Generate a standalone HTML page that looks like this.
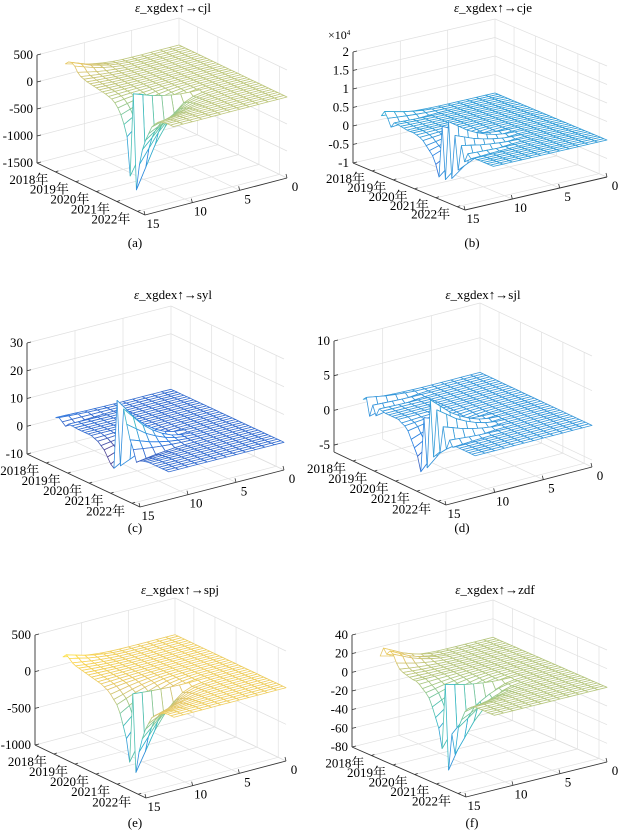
<!DOCTYPE html>
<html><head><meta charset="utf-8">
<style>
html,body{margin:0;padding:0;background:#fff;}
svg{display:block;font-family:"Liberation Serif","Noto Serif CJK SC","Noto Sans CJK SC",serif;}
</style></head>
<body>
<svg id="fig" width="621" height="833" viewBox="0 0 621 833" xmlns="http://www.w3.org/2000/svg"></svg>
<script>
// ---- data ----
const yearLabels = ["2018年","2019年","2020年","2021年","2022年"];
const yearTickPos = [0.17,0.36,0.55,0.74,0.93];
const lagTicks = [0,5,10,15];
const lagIndex = [0,1,2,3,4,5,6,7,8,9,10,11,12];
const lagWeights = [0,0,0,0,0,0.01,0.03,0.08,0.18,0.32,0.5,0.75,1];
const profileA = [200,260,280,240,150,100,80,60,50,40,30,20,10,0,-20,-40,-80,-150,-250,-400,-600,-1300,250,-1500,-1000,-700,-500,-350,-200,-120,-60,-30,-10,0,0,0];
const profileB = [0.1,0.25,0.1,-0.1,0.05,0.05,0.03,0.02,0,0,0,-0.02,-0.05,-0.1,-0.2,-0.3,-0.4,-0.6,-0.9,0.5,-0.9,0.7,-0.8,0.4,-0.5,0.2,-0.2,0.05,-0.05,0,0,0,0,0,0,0];
const profileC = [0.5,1,0,-1,0.3,0.2,0.1,0,0,0,0,0,-0.5,-1,-2,-3,-5,-7,-8,17,-6,15,10,5,2,-2,-1,-0.5,-0.2,0,0,0,0,0,0,0];
const profileD = [0.5,1,-1.5,0.3,-1,0.2,0.1,0,0,0,0,0,-0.3,-0.5,-1,-2,-3,-4,-6,2,-5,5,-3,4,-2,2,-1,0.5,-0.3,0,0,0,0,0,0,0];
const profileE = [100,150,120,80,60,50,40,30,20,10,0,-10,-20,-40,-60,-100,-150,-200,-300,-450,-600,-900,50,-1000,-700,-500,-350,-250,-150,-100,-60,-30,-10,0,0,0];
const profileF = [10,20,15,20,18,10,5,3,2,1,0,0,-2,-5,-8,-12,-20,-30,-40,-60,10,-80,-40,-60,-30,-20,-10,-5,-2,0,0,0,0,0,0,0];
const ticksA = [500,0,-500,-1000,-1500];
const ticksB = [2,1.5,1,0.5,0,-0.5,-1];
const ticksC = [30,20,10,0,-10];
const ticksD = [10,5,0,-5];
const ticksE = [500,0,-500,-1000];
const ticksF = [40,20,0,-20,-40,-60,-80];

const panels = [
 {id:"a",title:"cjl",prof:profileA,ticks:ticksA,zmin:-1500,zmax:500,cmin:-1500,cmax:700,O:[37,163],T:[108,52],L:[142,-37],Zh:108,tx:173,ty:12,cap:[135,247]},
 {id:"b",title:"cje",prof:profileB,ticks:ticksB,zmin:-1,zmax:2,cmin:-1,cmax:2.6,O:[353,163],T:[112,47],L:[142,-33],Zh:111,tx:493,ty:12,cap:[472,247],exp:true},
 {id:"c",title:"syl",prof:profileC,ticks:ticksC,zmin:-10,zmax:30,cmin:-3,cmax:30,O:[27,454],T:[113,53],L:[144,-37],Zh:111,tx:173,ty:299,cap:[135,532]},
 {id:"d",title:"sjl",prof:profileD,ticks:ticksD,zmin:-6,zmax:10,cmin:-6,cmax:18,O:[334,452],T:[112,53],L:[146,-38],Zh:111,tx:483,ty:299,cap:[462,532]},
 {id:"e",title:"spj",prof:profileE,ticks:ticksE,zmin:-1000,zmax:500,cmin:-1000,cmax:230,O:[35,745],T:[111,53],L:[140,-37],Zh:110,tx:180,ty:594,cap:[135,827]},
 {id:"f",title:"zdf",prof:profileF,ticks:ticksF,zmin:-80,zmax:40,cmin:-80,cmax:40,O:[352,747],T:[114,50],L:[141,-35],Zh:112,tx:495,ty:594,cap:[472,827]}
];

const stops=[[53,42,135],[3,99,225],[20,133,212],[6,167,198],[56,185,158],[146,191,115],[217,186,86],[252,206,46],[249,251,14]];
function parula(v){v=Math.max(0,Math.min(1,v));const s=v*(stops.length-1);const i=Math.min(stops.length-2,Math.floor(s));const f=s-i;
 const c=stops[i].map((x,k)=>Math.round(x+(stops[i+1][k]-x)*f));
 const w=c.map(x=>Math.round(x+(255-x)*0.15));
 return `rgb(${w[0]},${w[1]},${w[2]})`;}

const NS="http://www.w3.org/2000/svg";
const svg=document.getElementById('fig');
function mk(tag,attrs,parent){const e=document.createElementNS(NS,tag);for(const k in attrs)e.setAttribute(k,attrs[k]);(parent||svg).appendChild(e);return e;}

panels.forEach(p=>{
 const g=mk('g',{});
 
 
 const P=(t,l,z)=>[p.O[0]+p.T[0]*t+p.L[0]*(15-l)/15, p.O[1]+p.T[1]*t+p.L[1]*(15-l)/15 - p.Zh*(z-p.zmin)/(p.zmax-p.zmin)];
 const line=(a,b,st,w,name)=>{const e=mk('line',{x1:a[0],y1:a[1],x2:b[0],y2:b[1],stroke:st,'stroke-width':w},g);
   
   return e;};
 const grid="#e0e0e0";
 lagTicks.forEach(l=>line(P(0,l,p.zmin),P(0,l,p.zmax),grid,0.7,'grid-line'));
 p.ticks.forEach(z=>line(P(0,15,z),P(0,0,z),grid,0.7,'grid-line'));
 yearTickPos.forEach(t=>line(P(t,0,p.zmin),P(t,0,p.zmax),grid,0.7,'grid-line'));
 p.ticks.forEach(z=>line(P(0,0,z),P(1,0,z),grid,0.7,'grid-line'));
 lagTicks.forEach(l=>line(P(0,l,p.zmin),P(1,l,p.zmin),grid,0.7,'grid-line'));
 yearTickPos.forEach(t=>line(P(t,15,p.zmin),P(t,0,p.zmin),grid,0.7,'grid-line'));
 line(P(0,15,p.zmin),P(0,15,p.zmax),"#333",0.9,'z-axis');
 line(P(0,15,p.zmin),P(1,15,p.zmin),"#333",0.9,'year-axis');
 line(P(1,15,p.zmin),P(1,0,p.zmin),"#333",0.9,'lag-axis');
 p.ticks.forEach(z=>{const a=P(0,15,z);
   line(a,[a[0]+4,a[1]-1],"#333",0.8,'z-tick');
   const t=mk('text',{x:a[0]-4,y:a[1]+4,'text-anchor':'end','font-size':13,fill:'#000'},g);
   
   
   t.textContent=String(z);});
 if(p.exp){const a=P(0,15,p.zmax);const t=mk('text',{x:a[0]-25,y:a[1]-13,'font-size':12,fill:'#000'},g);
   
   
   t.innerHTML='×10<tspan font-size="7" dy="-4">4</tspan>';}
 yearLabels.forEach((lab,i)=>{const a=P(yearTickPos[i],15,p.zmin);
   line(a,[a[0]+3,a[1]-1],"#333",0.8,'year-tick');
   const t=mk('text',{x:a[0]-7,y:a[1]+12,'text-anchor':'end','font-size':13,fill:'#000'},g);
   
   
   t.textContent=lab;});
 lagTicks.forEach(l=>{const a=P(1,l,p.zmin);
   line(a,[a[0]-1,a[1]-4],"#333",0.8,'lag-tick');
   const t=mk('text',{x:a[0]+8,y:a[1]+13,'text-anchor':'middle','font-size':13,fill:'#000'},g);
   
   
   t.textContent=String(l);});
 const N=p.prof.length;
 const Z=(i,j)=>p.prof[i]*lagWeights[j];
 const quads=[];
 for(let i=0;i<N-1;i++)for(let j=0;j<lagIndex.length-1;j++){
   const t0=i/(N-1),t1=(i+1)/(N-1),l0=lagIndex[j],l1=lagIndex[j+1];
   quads.push({key:(t0+t1)/2+(l0+l1)/30,i,j,t0,t1,l0,l1});}
 quads.sort((a,b)=>a.key-b.key);
 const mg=mk('g',{},g);
 
 
 quads.forEach(q=>{
   const z00=Z(q.i,q.j),z10=Z(q.i+1,q.j),z11=Z(q.i+1,q.j+1),z01=Z(q.i,q.j+1);
   const pts=[P(q.t0,q.l0,z00),P(q.t1,q.l0,z10),P(q.t1,q.l1,z11),P(q.t0,q.l1,z01)];
   const zm=(z00+z10+z11+z01)/4;
   const e=mk('polygon',{points:pts.map(v=>v[0].toFixed(1)+','+v[1].toFixed(1)).join(' '),fill:'#fff',stroke:parula((zm-p.cmin)/(p.cmax-p.cmin)),'stroke-width':0.8,'stroke-linejoin':'round'},mg);
   
   
 });
 const tt=mk('text',{x:p.tx,y:p.ty,'text-anchor':'middle','font-size':13,fill:'#000'},g);
 
 
 tt.innerHTML='<tspan font-style="italic">ε</tspan>_xgdex↑→'+p.title;
 const cp=mk('text',{x:p.cap[0],y:p.cap[1],'text-anchor':'middle','font-size':13,fill:'#000'},g);
 
 
 cp.textContent='('+p.id+')';
});
</script>
</body></html>
